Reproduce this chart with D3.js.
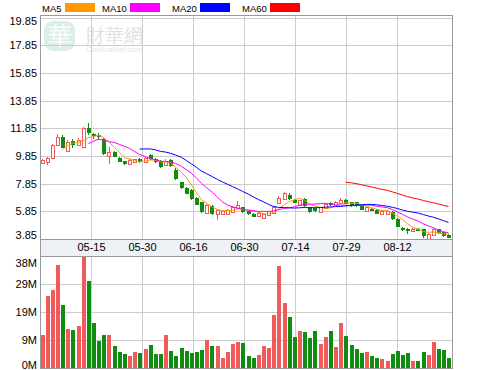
<!DOCTYPE html>
<html lang="zh">
<head>
<meta charset="UTF-8">
<title>K线图</title>
<script src="https://cdn.jsdelivr.net/npm/d3@7/dist/d3.min.js"></script>
<style>
  body { margin: 0; background: #fff; }
  svg text { font-family: "Liberation Sans", Arial, sans-serif; }
</style>
</head>
<body>
<script>
// trading days (MM-DD)
var dates = ["04-30","05-05","05-06","05-07","05-08","05-09","05-12","05-13","05-14","05-15",
  "05-16","05-19","05-20","05-21","05-22","05-23","05-26","05-27","05-28","05-30",
  "06-03","06-04","06-05","06-06","06-09","06-10","06-11","06-12","06-13","06-16",
  "06-17","06-18","06-19","06-20","06-23","06-24","06-25","06-26","06-27","06-30",
  "07-01","07-02","07-03","07-04","07-07","07-08","07-09","07-10","07-11","07-14",
  "07-15","07-16","07-17","07-18","07-21","07-22","07-23","07-24","07-25","07-29",
  "07-30","07-31","08-01","08-04","08-05","08-06","08-07","08-08","08-11","08-12",
  "08-13","08-14","08-15","08-18","08-19","08-20","08-21","08-22","08-25","08-26"];

var opens = [9.31,9.40,9.74,10.70,11.26,10.22,10.92,10.63,10.51,11.91,
  11.41,11.35,11.10,9.86,10.15,9.74,9.48,9.26,9.40,9.62,
  9.40,9.91,9.62,9.50,9.19,9.55,8.87,7.94,7.55,7.38,
  6.85,6.49,5.74,6.22,5.64,5.64,5.64,5.84,6.08,6.13,
  5.84,5.69,5.55,5.40,5.55,5.74,6.46,6.78,7.06,6.70,
  6.32,6.75,6.17,6.08,5.84,6.08,6.46,6.32,6.42,6.70,
  6.51,6.51,6.27,5.88,6.03,5.98,5.69,5.69,5.81,5.33,
  4.63,4.58,4.44,4.58,4.54,3.86,4.15,4.54,4.34,4.15];
var highs = [9.60,9.76,10.75,11.41,11.35,11.00,11.10,11.12,11.95,12.27,
  11.55,11.50,11.15,10.50,10.20,9.80,9.50,9.60,9.65,9.70,
  9.75,9.98,9.68,9.55,9.67,9.60,8.95,8.00,7.60,7.45,
  6.90,6.55,6.35,6.30,6.00,5.90,6.00,6.25,6.60,6.20,
  5.90,5.75,5.80,5.75,5.90,6.25,6.95,7.25,7.15,6.75,
  6.70,6.80,6.20,6.12,6.20,6.42,6.50,6.60,6.85,6.75,
  6.55,6.55,6.30,6.20,6.07,6.02,5.92,5.92,5.85,5.38,
  4.70,4.62,4.62,4.62,4.58,4.25,4.65,4.60,4.38,4.18];
var lows = [9.25,9.18,9.67,10.65,10.40,10.12,10.45,10.55,10.50,11.35,
  11.10,11.00,9.95,9.31,9.75,9.45,9.20,9.22,9.35,9.35,
  9.35,9.55,9.35,9.00,9.15,9.05,8.15,7.45,7.10,6.70,
  6.28,5.70,5.70,5.60,5.26,5.60,5.60,5.80,6.05,5.70,
  5.60,5.45,5.50,5.35,5.50,5.70,6.40,6.70,6.70,6.45,
  6.25,6.15,5.70,5.80,5.80,6.05,6.25,6.28,6.38,6.38,
  6.20,6.20,5.95,5.85,5.85,5.65,5.65,5.65,5.25,4.70,
  4.40,4.20,4.40,4.40,3.95,3.85,4.10,4.20,4.00,3.90];
var closes = [9.53,9.69,10.68,11.26,10.47,10.85,10.63,10.99,11.86,11.55,
  11.23,11.21,9.98,10.15,9.79,9.48,9.24,9.55,9.60,9.38,
  9.69,9.62,9.40,9.06,9.50,9.11,8.20,7.50,7.14,6.75,
  6.32,5.74,6.29,5.64,5.93,5.84,5.93,6.17,6.32,5.74,
  5.64,5.50,5.74,5.69,5.84,6.17,6.85,7.18,6.75,6.51,
  6.65,6.22,5.79,5.84,6.17,6.37,6.32,6.56,6.65,6.42,
  6.27,6.27,5.98,6.17,5.88,5.69,5.88,5.88,5.30,4.72,
  4.49,4.44,4.58,4.44,4.00,4.20,4.58,4.25,4.05,3.96];
// volume, millions of shares
var volumes = [11.4,24.8,26.9,35.8,21.7,13.4,13.1,14.5,38.8,30.3,
  15.5,9.3,11.4,11.4,7.6,5.5,4.8,4.1,5.5,5.2,
  6.6,7.9,4.8,4.8,11.4,5.9,4.1,6.9,5.9,5.2,
  5.5,6.2,9.7,7.6,7.6,3.4,5.5,8.3,9.0,8.6,
  4.1,3.4,4.5,7.6,6.9,18.3,35.2,22.4,17.6,10.7,
  12.8,12.4,10.3,12.8,8.3,10.7,12.8,7.2,15.5,11.0,
  7.9,6.6,5.2,5.5,4.1,3.4,3.1,2.4,4.8,5.9,
  4.5,5.2,2.4,2.4,5.5,4.5,9.0,6.6,6.2,3.4];

var priceTicks = [3.85,5.85,7.85,9.85,11.85,13.85,15.85,17.85,19.85];
var volTicks = [0,9.7,19.4,29.1,38.8];
var maNames = ["MA5","MA10","MA20","MA60"];
var maPeriods = [5,10,20,60];
var maColors = ["#ff9900","#ff00ff","#0000ff","#ff0000"];

var W = 500, H = 370;
var left = 40, right = 452;
var pTop = 15, pBot = 239, bandBot = 256, vBot = 368;
var upColor = "#f05a5a", downColor = "#108c10";
var n = closes.length;

var svg = d3.select("body").append("svg")
  .attr("width", W).attr("height", H);

var x = d3.scaleBand().domain(d3.range(n)).range([left, right])
  .paddingInner(0.2).paddingOuter(0.1);
var y = d3.scaleLinear().domain([3.85, 20.05]).range([pBot, pTop]);
var yv = d3.scaleLinear().domain([0, 38.8]).range([vBot, bandBot]);
function cx(i) { return Math.round(x(i) + x.bandwidth() / 2) - 0.5; }

// watermark
var wm = svg.append("g").attr("opacity", 0.55);
wm.append("rect").attr("x", 44).attr("y", 21).attr("width", 31).attr("height", 30)
  .attr("rx", 9).attr("fill", "#bfe3d3");
wm.append("text").attr("x", 59.5).attr("y", 44).attr("text-anchor", "middle")
  .attr("font-size", 24).attr("fill", "#fff").text("華");
wm.append("text").attr("x", 86).attr("y", 42)
  .attr("font-size", 19).attr("fill", "#c8c8c8").text("財華網");
wm.append("text").attr("x", 86).attr("y", 52)
  .attr("font-size", 8).attr("fill", "#cfcfcf").text("CaiHuaNet.com");

// legend: label then colour swatch
var legendX = [42, 102, 172, 242];
maNames.forEach(function(name, i) {
  var t = svg.append("text").attr("x", legendX[i]).attr("y", 11.5)
    .attr("font-size", 9.5).text(name);
  var w = t.node().getComputedTextLength();
  svg.append("rect").attr("x", Math.round(legendX[i] + w + 3)).attr("y", 3)
    .attr("width", 30).attr("height", 9).attr("fill", maColors[i]);
});

// date band
svg.append("rect").attr("x", left + 0.5).attr("y", pBot + 0.5)
  .attr("width", right - left).attr("height", bandBot - pBot).attr("fill", "#eef2f6");

// vertical grid lines every floor(width/8) px, labelled with the bar under them
var gStep = Math.floor((right - left) / 8);
var gridX = d3.range(1, 8).map(function(k) { return left + k * gStep; });
var grid = svg.append("g").attr("stroke", "#cccccc").attr("shape-rendering", "crispEdges");
gridX.forEach(function(gx) {
  grid.append("line").attr("x1", gx + 0.5).attr("x2", gx + 0.5).attr("y1", pTop).attr("y2", pBot);
  grid.append("line").attr("x1", gx + 0.5).attr("x2", gx + 0.5).attr("y1", bandBot).attr("y2", vBot);
});
priceTicks.forEach(function(t) {
  var yy = Math.round(y(t)) + 0.5;
  if (yy - pTop > 3 && pBot - yy > 3)
    grid.append("line").attr("x1", left).attr("x2", right).attr("y1", yy).attr("y2", yy);
});
volTicks.forEach(function(t) {
  var yy = Math.round(yv(t)) + 0.5;
  if (yy - bandBot > 3 && vBot - yy > 3)
    grid.append("line").attr("x1", left).attr("x2", right).attr("y1", yy).attr("y2", yy);
});

// axis labels
svg.selectAll(".pl").data(priceTicks).enter().append("text")
  .attr("x", 37).attr("text-anchor", "end").attr("font-size", 11)
  .attr("dy", "0.35em")
  .attr("y", function(d) { return Math.max(pTop + 6, Math.min(pBot - 3.5, y(d))); })
  .text(function(d) { return d.toFixed(2); });
svg.selectAll(".vl").data(volTicks).enter().append("text")
  .attr("x", 37).attr("text-anchor", "end").attr("font-size", 11)
  .attr("dy", "0.35em")
  .attr("y", function(d) { return Math.max(bandBot + 7, Math.min(vBot - 2.5, yv(d))); })
  .text(function(d) { return Math.floor(d) + "M"; });
svg.selectAll(".dl").data(gridX).enter().append("text")
  .attr("x", function(d) { return d + 0.5; }).attr("y", 251)
  .attr("text-anchor", "middle").attr("font-size", 11)
  .text(function(d) { return dates[Math.floor((d - left) / x.step())]; });

// volume bars
svg.append("g").attr("shape-rendering", "crispEdges").selectAll("rect")
  .data(volumes).enter().append("rect")
  .attr("x", function(d, i) { return Math.round(x(i)); })
  .attr("width", 4)
  .attr("y", function(d) { return yv(d); })
  .attr("height", function(d) { return vBot - yv(d); })
  .attr("fill", function(d, i) { return closes[i] >= opens[i] ? upColor : downColor; });

// candles
var cg = svg.append("g").attr("shape-rendering", "crispEdges");
d3.range(n).forEach(function(i) {
  var up = closes[i] >= opens[i];
  var col = up ? upColor : downColor;
  var top = y(Math.max(opens[i], closes[i])), bot = y(Math.min(opens[i], closes[i]));
  cg.append("line").attr("x1", cx(i)).attr("x2", cx(i))
    .attr("y1", y(highs[i])).attr("y2", y(lows[i])).attr("stroke", col);
  if (up) {
    cg.append("rect").attr("x", Math.round(x(i)) + 0.5).attr("y", Math.round(top) + 0.5)
      .attr("width", 3).attr("height", Math.max(1, Math.round(bot - top)))
      .attr("fill", "#fff").attr("stroke", col);
  } else {
    cg.append("rect").attr("x", Math.round(x(i))).attr("y", Math.round(top))
      .attr("width", 4).attr("height", Math.max(1, Math.round(bot - top)))
      .attr("fill", col);
  }
});

// moving averages of the closes
maPeriods.forEach(function(p, k) {
  var pts = d3.range(p - 1, n).map(function(i) {
    return [cx(i), y(d3.mean(closes.slice(i - p + 1, i + 1)))];
  });
  if (!pts.length) return;
  svg.append("path").attr("d", d3.line()(pts))
    .attr("fill", "none").attr("stroke", maColors[k]).attr("stroke-width", 1);
});

// frames
var fr = svg.append("g").attr("fill", "none").attr("stroke", "#999")
  .attr("shape-rendering", "crispEdges");
fr.append("rect").attr("x", left + 0.5).attr("y", pTop + 0.5).attr("width", right - left).attr("height", pBot - pTop);
fr.append("rect").attr("x", left + 0.5).attr("y", pBot + 0.5).attr("width", right - left).attr("height", bandBot - pBot);
fr.append("rect").attr("x", left + 0.5).attr("y", bandBot + 0.5).attr("width", right - left).attr("height", vBot - bandBot);
</script>
</body>
</html>
